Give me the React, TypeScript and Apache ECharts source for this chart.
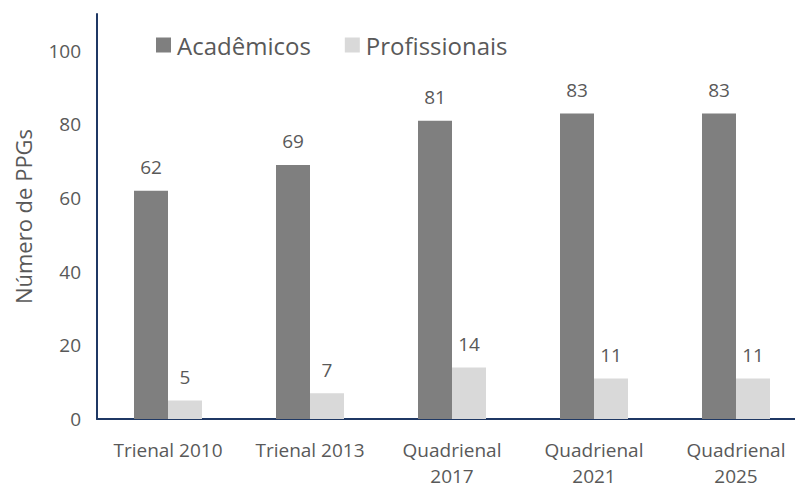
import React, { useEffect, useRef } from "react";
import * as echarts from "echarts";

const categories = ["Trienal 2010", "Trienal 2013", "Quadrienal\n2017", "Quadrienal\n2021", "Quadrienal\n2025"];
const academicos = [62, 69, 81, 83, 83];
const profissionais = [5, 7, 14, 11, 11];
const yTicks = [0, 20, 40, 60, 80, 100];

const FONT = "'Open Sans', sans-serif";
const TXT = "#595959";

export default function App() {
  const ref = useRef<HTMLDivElement>(null);
  useEffect(() => {
    if (!ref.current) return;
    const chart = echarts.init(ref.current, undefined, { renderer: "svg" });
    chart.setOption({
      animation: false,
      textStyle: { fontFamily: FONT },
      legend: {
        left: 151,
        top: 28,
        itemWidth: 15,
        itemHeight: 15,
        itemGap: 34,
        icon: "rect",
        textStyle: { fontSize: 24, color: TXT, fontFamily: FONT, padding: [0, 0, 0, 1] },
        data: ["Acadêmicos", "Profissionais"],
      },
      grid: { left: 97, right: 3, top: 14, bottom: 69, containLabel: false, outerBoundsMode: "none" },
      xAxis: {
        type: "category",
        data: categories,
        axisLine: { lineStyle: { color: "#1f3864", width: 2 } },
        axisTick: { show: false },
        axisLabel: { color: TXT, fontSize: 19, fontFamily: FONT, margin: 18, lineHeight: 26, interval: 0 },
      },
      yAxis: {
        type: "value",
        min: 0,
        max: 110,
        interval: 20,
        name: "Número de PPGs",
        nameLocation: "middle",
        nameGap: 63,
        nameRotate: 90,
        nameTextStyle: { color: TXT, fontSize: 22, fontFamily: FONT },
        axisLine: { show: true, lineStyle: { color: "#1f3864", width: 2 } },
        axisTick: { show: false },
        splitLine: { show: false },
        axisLabel: {
          color: TXT,
          fontSize: 19,
          fontFamily: FONT,
          margin: 16,
          showMaxLabel: false,
          formatter: (v: number) => (yTicks.includes(v) ? String(v) : ""),
        },
      },
      series: [
        {
          name: "Acadêmicos",
          type: "bar",
          data: academicos,
          barWidth: 34,
          barGap: "0%",
          itemStyle: { color: "#7f7f7f" },
          label: { show: true, position: "top", distance: 14, color: TXT, fontSize: 19, fontFamily: FONT },
        },
        {
          name: "Profissionais",
          type: "bar",
          data: profissionais,
          barWidth: 34,
          barGap: "0%",
          itemStyle: { color: "#d9d9d9" },
          label: { show: true, position: "top", distance: 14, color: TXT, fontSize: 19, fontFamily: FONT },
        },
      ],
    });
    return () => chart.dispose();
  }, []);
  return (
    <div style={{ position: "absolute", left: 0, top: 0, width: 795, height: 488, overflow: "hidden" }}>
      <div ref={ref} style={{ width: 810, height: 488 }} />
    </div>
  );
}
